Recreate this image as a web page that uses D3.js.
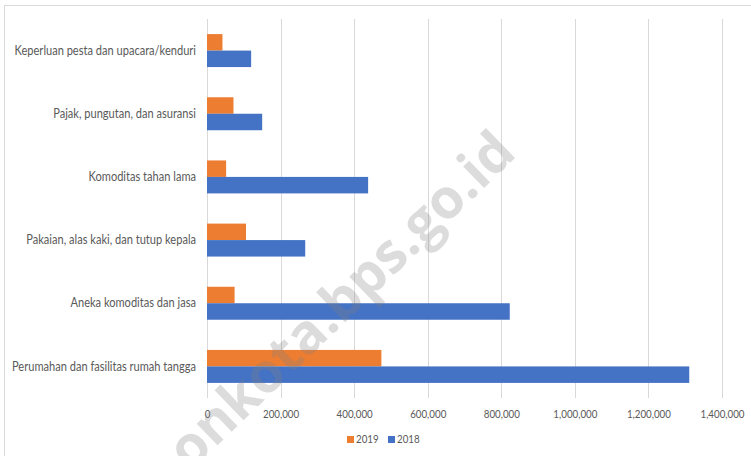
<!DOCTYPE html>
<html>
<head>
<meta charset="utf-8">
<script src="https://cdn.jsdelivr.net/npm/d3@7"></script>
<style>
  html, body { margin: 0; padding: 0; background: #fff; }
  svg { display: block; }
</style>
</head>
<body>
<svg id="chart" width="751" height="456"></svg>
<script>
const categories = [
  "Keperluan pesta dan upacara/kenduri",
  "Pajak, pungutan, dan asuransi",
  "Komoditas tahan lama",
  "Pakaian, alas kaki, dan tutup kepala",
  "Aneka komoditas dan jasa",
  "Perumahan dan fasilitas rumah tangga"
];
const series2019 = [42000, 72000, 52000, 106000, 75000, 474000];
const series2018 = [120000, 150000, 438000, 267000, 823000, 1311000];
const seriesNames = ["2019", "2018"];
const seriesColors = ["#ED7D31", "#4472C4"];
const xTicks = [0, 200000, 400000, 600000, 800000, 1000000, 1200000, 1400000];
const watermark = "onkota.bps.go.id";

const svg = d3.select("#chart");
const W = 751, H = 456;
const plot = { left: 207, right: 722, top: 19, bottom: 398 };
const textCol = "#595959";

// outer frame
svg.append("rect")
  .attr("x", 4.5).attr("y", 5.5)
  .attr("width", W).attr("height", H)
  .attr("fill", "none").attr("stroke", "#d9d9d9").attr("stroke-width", 1);

const x = d3.scaleLinear().domain([0, 1400000]).range([plot.left, plot.right]);
const y = d3.scaleBand().domain(categories).range([plot.top, plot.bottom])
  .paddingInner(0.478).paddingOuter(0.239);
const ySub = d3.scaleBand().domain(seriesNames).range([0, y.bandwidth()]);

// gridlines
svg.append("g").selectAll("line").data(xTicks).join("line")
  .attr("x1", d => Math.round(x(d)) + 0.5).attr("x2", d => Math.round(x(d)) + 0.5)
  .attr("y1", plot.top).attr("y2", plot.bottom)
  .attr("stroke", "#d9d9d9").attr("stroke-width", 1);

// bars
const data = categories.map((c, i) => ({ c, v: [series2019[i], series2018[i]] }));
const groups = svg.append("g").selectAll("g").data(data).join("g")
  .attr("transform", d => `translate(0,${y(d.c)})`);
groups.selectAll("rect").data(d => d.v.map((v, j) => ({ v, s: seriesNames[j], col: seriesColors[j] })))
  .join("rect")
  .attr("x", x(0))
  .attr("y", d => ySub(d.s))
  .attr("width", d => x(d.v) - x(0))
  .attr("height", ySub.bandwidth())
  .attr("fill", d => d.col);

// narrow-face helper: squeeze text horizontally by factor
function squeeze(sel, factor) {
  sel.each(function () {
    const w = this.getComputedTextLength();
    d3.select(this).attr("textLength", w * factor).attr("lengthAdjust", "spacingAndGlyphs");
  });
}

// x axis labels
const xAxis = d3.axisBottom(x).tickValues(xTicks).tickSize(0).tickPadding(0)
  .tickFormat(d3.format(","));
const gx = svg.append("g").attr("transform", `translate(0,${plot.bottom + 20})`).call(xAxis);
gx.select(".domain").remove();
gx.selectAll("text").attr("fill", textCol)
  .style("font-size", "12px").style("font-family", "Lato, sans-serif")
  .attr("dy", "0").attr("dominant-baseline", "middle").attr("y", -3);
const tickNode = gx.selectAll("text").filter(d => d === 1400000).node();
const fT = 44 / tickNode.getComputedTextLength();
squeeze(gx.selectAll("text"), fT);

// category labels
const gy = svg.append("g").attr("transform", `translate(${plot.left - 11},0)`)
  .call(d3.axisLeft(y).tickSize(0).tickPadding(0));
gy.select(".domain").remove();
gy.selectAll("text").attr("fill", textCol)
  .style("font-size", "13px").style("font-family", "Lato, sans-serif");
const longest = gy.selectAll("text").filter(d => d === categories[5]).node();
const fL = 184 / longest.getComputedTextLength();
squeeze(gy.selectAll("text"), fL);

// legend
const legend = svg.append("g");
const legendX = [347, 388];
seriesNames.forEach((s, i) => {
  legend.append("rect").attr("x", legendX[i]).attr("y", 436).attr("width", 7).attr("height", 7)
    .attr("fill", seriesColors[i]);
  const t = legend.append("text").attr("x", legendX[i] + 9).attr("y", 440)
    .attr("dominant-baseline", "middle").attr("fill", textCol)
    .style("font-size", "12px").style("font-family", "Lato, sans-serif").text(s);
  squeeze(t, fT);
});

// watermark
svg.append("text")
  .attr("transform", "translate(190,472) rotate(-44)")
  .style("font-size", "55px").style("font-weight", "bold")
  .style("font-family", "'Open Sans', sans-serif")
  .attr("fill", "#808080").attr("fill-opacity", 0.28)
  .text(watermark);
</script>
</body>
</html>
